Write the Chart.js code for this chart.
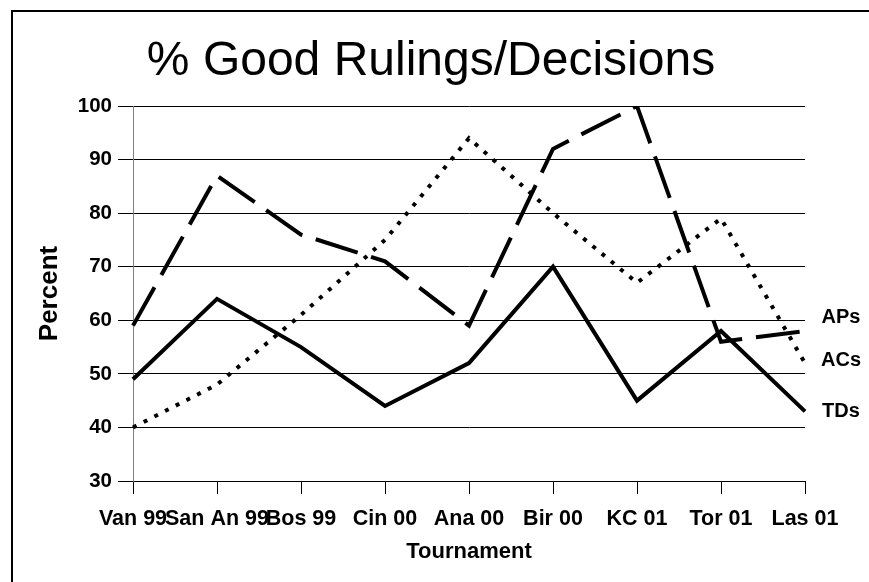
<!DOCTYPE html>
<html>
<head>
<meta charset="utf-8">
<script src="https://cdn.jsdelivr.net/npm/chart.js@4"></script>
<style>
  html, body { margin: 0; padding: 0; background: #fff; }
  canvas { display: block; }
</style>
</head>
<body>
<canvas id="rulingsChart" width="869" height="582"></canvas>
<script>
// ----------------------------
// DATA
// ----------------------------
const chartTitle = "% Good Rulings/Decisions";
const tournaments = ["Van 99", "San An 99", "Bos 99", "Cin 00", "Ana 00", "Bir 00", "KC 01", "Tor 01", "Las 01"];
const apsValues = [59, 87, 76, 71, 59, 92, 100, 56, 58];
const acsValues = [40, 48, 61, 75, 94, 80, 67, 79, 52];
const tdsValues = [49, 64, 55, 44, 52, 70, 45, 58, 43];
const seriesNames = ["APs", "ACs", "TDs"];
const yTicks = [30, 40, 50, 60, 70, 80, 90, 100];

const FONT = "'Liberation Sans', Arial, Helvetica, sans-serif";

// ----------------------------
// PLUGINS
// ----------------------------
// frame round the chart (only left and top edges are in view) + title
const framePlugin = {
    id: "frame",
    afterDraw(chart) {
        const ctx = chart.ctx;
        ctx.save();
        ctx.fillStyle = "#000";
        ctx.fillRect(11, 10, 2, chart.height);
        ctx.fillRect(11, 10, chart.width, 2);

        ctx.font = "48px " + FONT;
        ctx.textAlign = "center";
        ctx.textBaseline = "middle";
        ctx.fillText(chartTitle, 431, 62);
        ctx.restore();
    }
};

// series names written to the right of the last points
const labelOffsets = [2.5, 0.5, 0];
const endLabelPlugin = {
    id: "endLabels",
    afterDatasetsDraw(chart) {
        const ctx = chart.ctx;
        const yScale = chart.scales.y;
        ctx.save();
        ctx.font = "bold 20px " + FONT;
        ctx.fillStyle = "#000";
        ctx.textAlign = "center";
        ctx.textBaseline = "middle";
        chart.data.datasets.forEach((ds, i) => {
            const last = ds.data[ds.data.length - 1];
            const y = yScale.getPixelForValue(last + labelOffsets[i]);
            ctx.fillText(ds.label, 841, y);
        });
        ctx.restore();
    }
};

// ----------------------------
// CHART
// ----------------------------
const ctx = document.getElementById("rulingsChart").getContext("2d");

new Chart(ctx, {
    type: "line",
    data: {
        labels: tournaments,
        datasets: [
            {
                label: seriesNames[0],
                data: apsValues,
                borderColor: "#000",
                borderWidth: 4,
                borderDash: [44, 14],
                pointRadius: 0,
                tension: 0,
                fill: false
            },
            {
                label: seriesNames[1],
                data: acsValues,
                borderColor: "#000",
                borderWidth: 4,
                borderDash: [4, 8],
                pointRadius: 0,
                tension: 0,
                fill: false
            },
            {
                label: seriesNames[2],
                data: tdsValues,
                borderColor: "#000",
                borderWidth: 4,
                pointRadius: 0,
                tension: 0,
                fill: false
            }
        ]
    },
    options: {
        responsive: false,
        animation: false,
        devicePixelRatio: 1,
        layout: {
            padding: { left: 0, right: 64, top: 106, bottom: 0 }
        },
        plugins: {
            legend: { display: false },
            tooltip: { enabled: false },
            title: { display: false }
        },
        scales: {
            x: {
                offset: false,
                grid: {
                    drawOnChartArea: false,
                    drawTicks: true,
                    tickLength: 13,
                    color: "#000",
                    lineWidth: 1
                },
                border: { color: "#000", width: 1 },
                ticks: {
                    color: "#000",
                    font: { family: FONT, size: 21.5, weight: "bold" },
                    autoSkip: false,
                    maxRotation: 0,
                    minRotation: 0,
                    padding: 12
                },
                title: {
                    display: true,
                    text: "Tournament",
                    color: "#000",
                    font: { family: FONT, size: 22, weight: "bold" },
                    padding: { top: 0, bottom: 17 }
                },
                afterFit(scale) {
                    scale.height = 101;
                }
            },
            y: {
                min: yTicks[0],
                max: yTicks[yTicks.length - 1],
                afterBuildTicks(scale) {
                    scale.ticks = yTicks.map(v => ({ value: v }));
                },
                grid: {
                    drawOnChartArea: true,
                    drawTicks: true,
                    tickLength: 15,
                    color: "#000",
                    lineWidth: 1
                },
                border: { color: "#808080", width: 1 },
                ticks: {
                    color: "#000",
                    font: { family: FONT, size: 20.5, weight: "bold" },
                    padding: 6
                },
                title: {
                    display: true,
                    text: "Percent",
                    color: "#000",
                    font: { family: FONT, size: 26, weight: "bold" },
                    padding: { top: 34, bottom: 0 }
                },
                afterFit(scale) {
                    scale.width = 133;
                }
            }
        }
    },
    plugins: [framePlugin, endLabelPlugin]
});
</script>
</body>
</html>
